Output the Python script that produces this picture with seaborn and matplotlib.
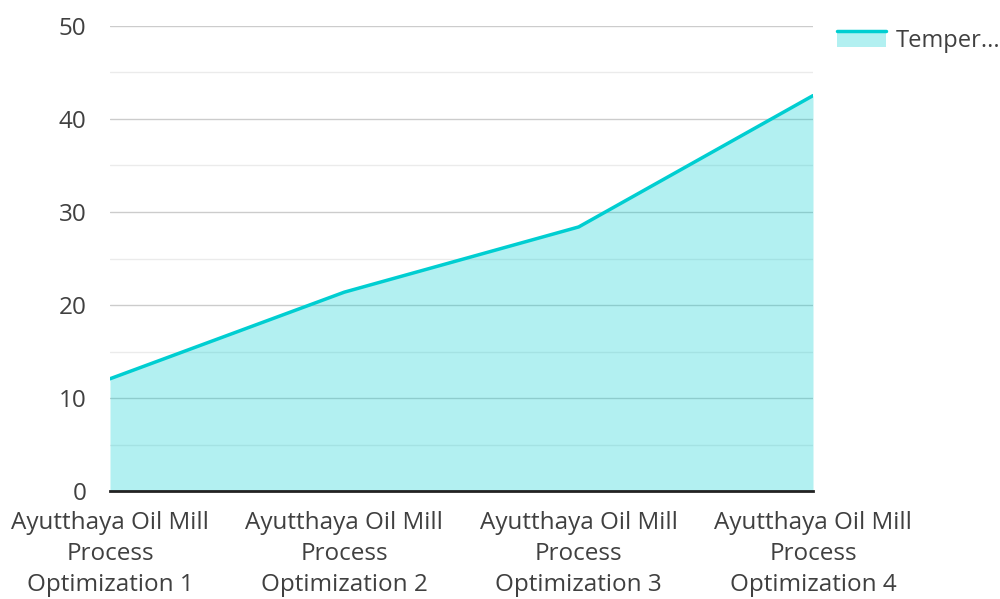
import pandas as pd
import matplotlib.pyplot as plt
import seaborn as sns
from matplotlib.legend_handler import HandlerBase
from matplotlib.lines import Line2D
from matplotlib.patches import Rectangle
from matplotlib.ticker import MultipleLocator

categories = [
    "Ayutthaya Oil Mill\nProcess\nOptimization 1",
    "Ayutthaya Oil Mill\nProcess\nOptimization 2",
    "Ayutthaya Oil Mill\nProcess\nOptimization 3",
    "Ayutthaya Oil Mill\nProcess\nOptimization 4",
]
temperature = [12.1, 21.4, 28.4, 42.5]
legend_label = "Temper..."

LINE = "#00CED1"
TEXT = "#404040"


class AreaHandler(HandlerBase):
    # line on top, pale fill below it, like the area legend key
    def create_artists(self, legend, orig_handle, xdescent, ydescent,
                       width, height, fontsize, trans):
        top = height * 1.1
        bottom = -height * 0.1
        rect = Rectangle((-xdescent, bottom - ydescent), width, top - bottom,
                         facecolor=LINE, alpha=0.3, linewidth=0, transform=trans)
        line = Line2D([-xdescent, -xdescent + width], [top - ydescent, top - ydescent],
                      color=LINE, linewidth=2.5, transform=trans)
        return [rect, line]


sns.set_style("white")
plt.rcParams["font.family"] = ["Open Sans", "DejaVu Sans"]

df = pd.DataFrame({"pos": range(len(categories)), "value": temperature})

fig = plt.figure(figsize=(10, 5.99), dpi=100)
ax = fig.add_axes([0.11, 0.1795, 0.703, 0.7775])

ax.fill_between(df["pos"], df["value"], 0, color=LINE, alpha=0.3, linewidth=0, zorder=2)
sns.lineplot(data=df, x="pos", y="value", color=LINE, linewidth=2.5, ax=ax, zorder=3)

ax.set_xlim(0, len(categories) - 1)
ax.set_ylim(0, 50)
ax.yaxis.set_major_locator(MultipleLocator(10))
ax.yaxis.set_minor_locator(MultipleLocator(5))
ax.set_xticks(df["pos"])
ax.set_xticklabels(categories, linespacing=1.4)
ax.grid(axis="y", which="major", color="#cccccc", linewidth=1, zorder=1)
ax.grid(axis="y", which="minor", color="#ebebeb", linewidth=1, zorder=1)
ax.set_axisbelow(True)
ax.set_xlabel("")
ax.set_ylabel("")

for side in ["top", "right", "left"]:
    ax.spines[side].set_visible(False)
ax.spines["bottom"].set_color("#222222")
ax.spines["bottom"].set_linewidth(2)
ax.spines["bottom"].set_zorder(4)

ax.tick_params(axis="both", length=0, labelsize=17.5, labelcolor=TEXT)
ax.tick_params(axis="y", pad=17)
ax.tick_params(axis="x", pad=14)

handle = object()
ax.legend([handle], [legend_label], handler_map={object: AreaHandler()},
          loc="upper left", bbox_to_anchor=(1.02, 1.013),
          frameon=False, fontsize=17, labelcolor=TEXT, handlelength=2.1,
          handleheight=0.5, handletextpad=0.4, borderaxespad=0)

fig.savefig("out.png", dpi=100)
plt.close(fig)
